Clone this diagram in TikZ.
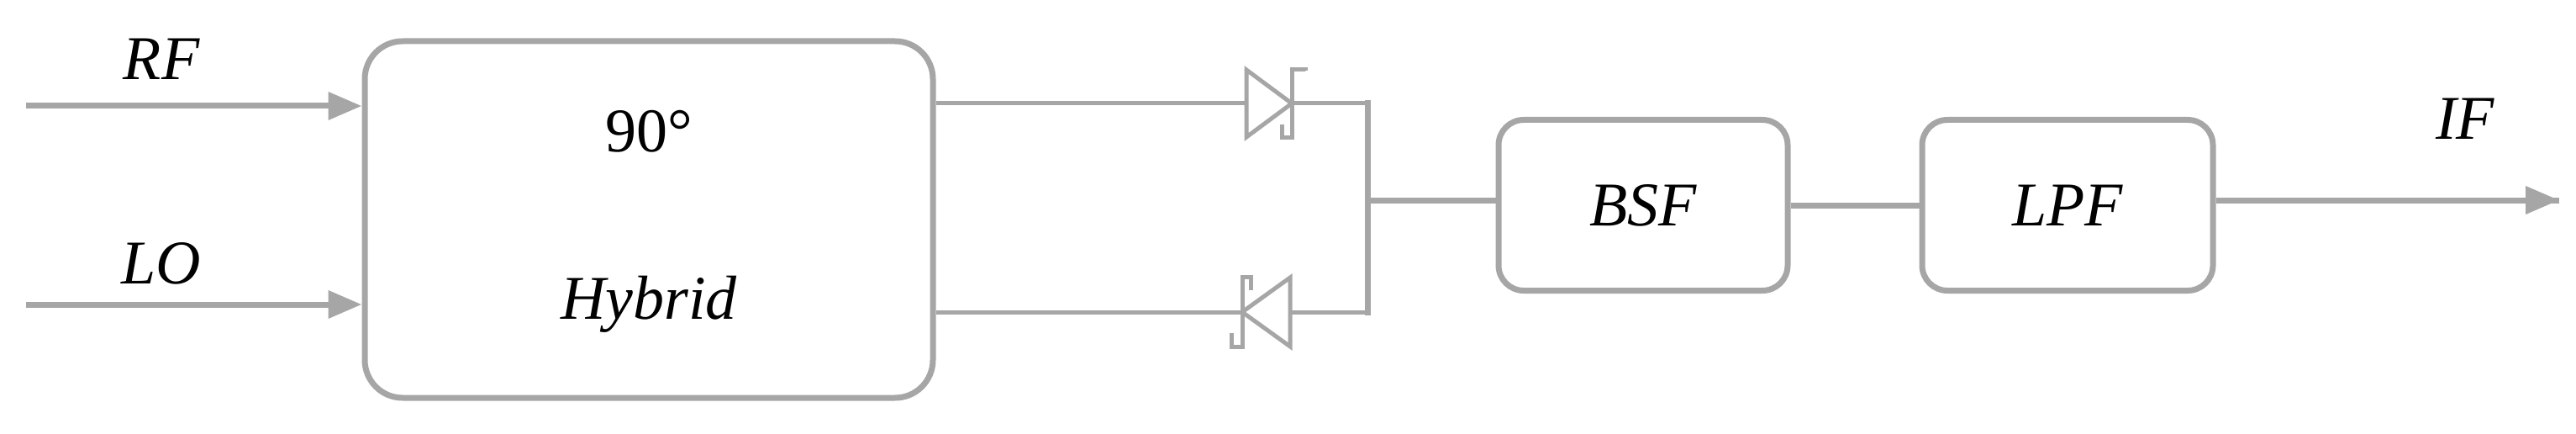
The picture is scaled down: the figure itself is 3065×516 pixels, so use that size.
\documentclass[tikz,border=0pt]{standalone}
\usepackage{fontspec}
\setmainfont{Liberation Serif}
\usetikzlibrary{arrows.meta}
\definecolor{lg}{HTML}{A6A6A6}
\begin{document}
\begin{tikzpicture}[x=1pt,y=-1pt,
  wire/.style={draw=lg,line width=7pt},
  blk/.style={draw=lg,line width=7pt,rounded corners=45pt,inner sep=0pt},
  sblk/.style={draw=lg,line width=7pt,rounded corners=30pt,inner sep=0pt},
  lbl/.style={font=\fontsize{74}{80}\selectfont\itshape},
  arr/.style={wire,-{Triangle[length=40pt,width=32pt]}},
  dio/.style={draw=lg,line width=5pt}]
\useasboundingbox (0,0) rectangle (3065,516);
\node[blk,minimum width=676pt,minimum height=424pt] (hyb) at (772,261) {};
\node[font=\fontsize{74}{80}\selectfont] (n90) at (772,156) {90°};
\node[lbl] (nhy) at (772,362) {Hybrid};
\node[sblk,minimum width=344pt,minimum height=203pt] (bsf) at (1955,244) {};
\node[lbl] at (bsf) {BSF};
\node[sblk,minimum width=346pt,minimum height=203pt] (lpf) at (2460,244) {};
\node[lbl] at (lpf) {LPF};
\node[lbl] (rf) at (192,70) {RF};
\node[lbl] (lo) at (192,313) {LO};
\node[lbl] (if) at (2933,141) {IF};
\coordinate (rfs) at (31,126);
\coordinate (los) at (31,362);
\coordinate (ife) at (3045,238);
\draw[arr] (rfs) -- (rfs -| hyb.west);
\draw[arr] (los) -- (los -| hyb.west);
\draw[wire] (lpf.east |- ife) -- (ife);
\draw[arr] (lpf.east |- ife) -- (ife);
\draw[wire] (bsf.east) -- (lpf.west);
% diodes
\coordinate (ua) at (1483,123); \coordinate (uk) at (1537,123);
\coordinate (la) at (1535,371); \coordinate (lk) at (1478,371);
\coordinate (bt) at (1627,123); \coordinate (bb) at (1627,371); \coordinate (bm) at (1627,238);
\draw[wire,line width=5pt] (hyb.east |- ua) -- (ua);
\draw[wire,line width=5pt] (hyb.east |- la) -- (lk);
\draw[dio] (1483,83) -- (1537,123) -- (1483,163) -- cycle;
\draw[dio] (1553,84) -- (1553,83) -- (1537,83) -- (1537,163) -- (1525,163) -- (1525,148);
\draw[dio] (uk) -- (bt);
\draw[dio] (1535,330) -- (1478,371) -- (1535,412) -- cycle;
\draw[dio] (1488,345) -- (1488,329) -- (1478,329) -- (1478,412) -- (1465,412) -- (1465,396);
\draw[dio] (la) -- (bb);
\draw[wire] (1627,119) -- (1627,375);
\draw[wire] (bm) -- (bm -| bsf.west);
\end{tikzpicture}
\end{document}
